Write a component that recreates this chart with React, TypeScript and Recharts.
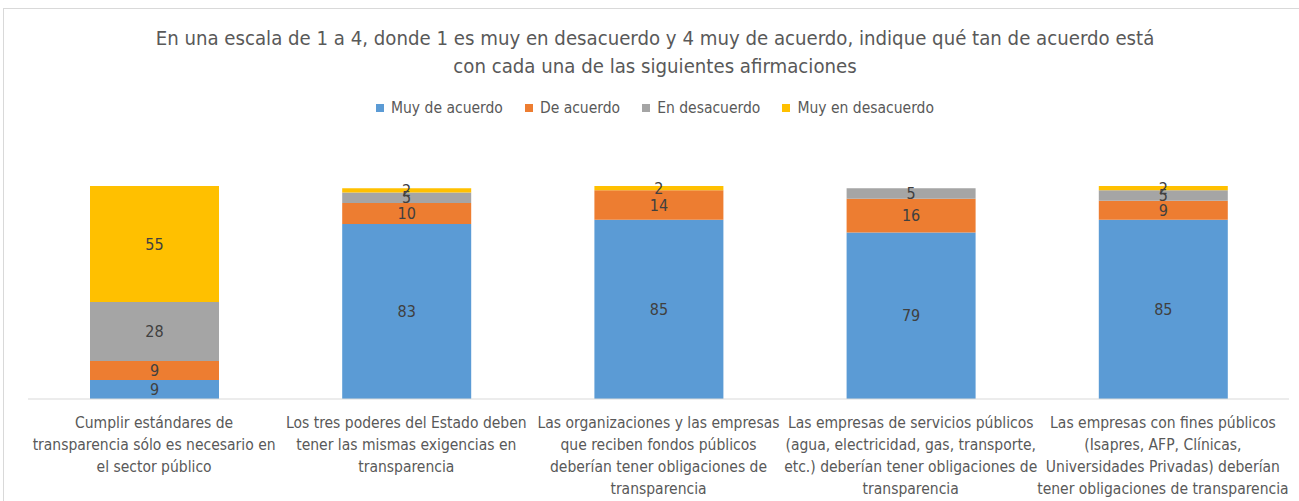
import React from "react"
import { BarChart, Bar, XAxis, YAxis, Legend, LabelList } from "recharts"

const FONT = '"Liberation Sans Narrow", "DejaVu Sans Condensed", sans-serif'

const categories = ["c1", "c2", "c3", "c4", "c5"]
const categoryLines = [
  ["Cumplir estándares de", "transparencia sólo es necesario en", "el sector público"],
  ["Los tres poderes del Estado deben", "tener las mismas exigencias en", "transparencia"],
  ["Las organizaciones y las empresas", "que reciben fondos públicos", "deberían tener obligaciones de", "transparencia"],
  ["Las empresas de servicios públicos", "(agua, electricidad, gas, transporte,", "etc.) deberían tener obligaciones de", "transparencia"],
  ["Las empresas con fines públicos", "(Isapres, AFP, Clínicas,", "Universidades Privadas) deberían", "tener obligaciones de transparencia"],
]

const muyDeAcuerdo = [9, 83, 85, 79, 85]
const deAcuerdo = [9, 10, 14, 16, 9]
const enDesacuerdo = [28, 5, 0, 5, 5]
const muyEnDesacuerdo = [55, 2, 2, 0, 2]

const seriesNames = ["Muy de acuerdo", "De acuerdo", "En desacuerdo", "Muy en desacuerdo"]
const seriesKeys = ["muyDeAcuerdo", "deAcuerdo", "enDesacuerdo", "muyEnDesacuerdo"]
const seriesColors = ["#5B9BD5", "#ED7D31", "#A5A5A5", "#FFC000"]

const data = categories.map((c, i) => ({
  name: c,
  muyDeAcuerdo: muyDeAcuerdo[i],
  deAcuerdo: deAcuerdo[i],
  enDesacuerdo: enDesacuerdo[i],
  muyEnDesacuerdo: muyEnDesacuerdo[i],
}))

const CategoryTick = (props: any) => {
  const { x, y, payload } = props
  const lines = categoryLines[payload.index] || []
  return (
    <text x={x} y={y} textAnchor="middle" fill="#595959" fontSize={15.5} fontFamily={FONT}>
      {lines.map((l, i) => (
        <tspan key={i} x={x} y={y + 21 + i * 22}>
          {l}
        </tspan>
      ))}
    </text>
  )
}

const LegendContent = () => (
  <div style={{ display: "flex", justifyContent: "center", gap: 22, height: 20, fontFamily: FONT, fontSize: 15.5, color: "#595959" }}>
    {seriesNames.map((n, i) => (
      <div key={n} style={{ display: "flex", alignItems: "center" }}>
        <span style={{ width: 8, height: 8, background: seriesColors[i], marginRight: 7 }} />
        {n}
      </div>
    ))}
  </div>
)

const hideZero = (v: any) => (v ? v : "")

export default function App() {
  return (
    <div style={{ position: "absolute", left: 0, top: 0, width: 1299, height: 501, background: "#fff", overflow: "hidden" }}>
      <div style={{ position: "absolute", left: 3, top: 8, width: 1400, height: 600, borderTop: "1px solid #D9D9D9", borderLeft: "1px solid #D9D9D9" }} />
      <div
        style={{
          position: "absolute",
          left: 0,
          top: 24,
          width: 1310,
          textAlign: "center",
          fontFamily: FONT,
          fontSize: 20.2,
          lineHeight: "28px",
          color: "#595959",
        }}
      >
        En una escala de 1 a 4, donde 1 es muy en desacuerdo y 4 muy de acuerdo, indique qué tan de acuerdo está
        <br />
        con cada una de las siguientes afirmaciones
      </div>
      <div style={{ position: "absolute", left: 0, top: 0 }}>
        <BarChart width={1299} height={501} data={data} margin={{ top: 126, right: 10, bottom: 2, left: 28 }}>
          <Legend verticalAlign="top" content={<LegendContent />} wrapperStyle={{ top: 98, left: 0, width: 1310 }} />
          <YAxis hide domain={[0, 120]} />
          <XAxis dataKey="name" height={100} tickLine={false} axisLine={{ stroke: "#D9D9D9" }} interval={0} tick={<CategoryTick />} />
          {seriesKeys.map((k, i) => (
            <Bar key={k} dataKey={k} name={seriesNames[i]} stackId="a" fill={seriesColors[i]} barSize={129} isAnimationActive={false}>
              <LabelList dataKey={k} position="center" formatter={hideZero} fill="#404040" fontSize={16} fontFamily={FONT} />
            </Bar>
          ))}
        </BarChart>
      </div>
    </div>
  )
}
